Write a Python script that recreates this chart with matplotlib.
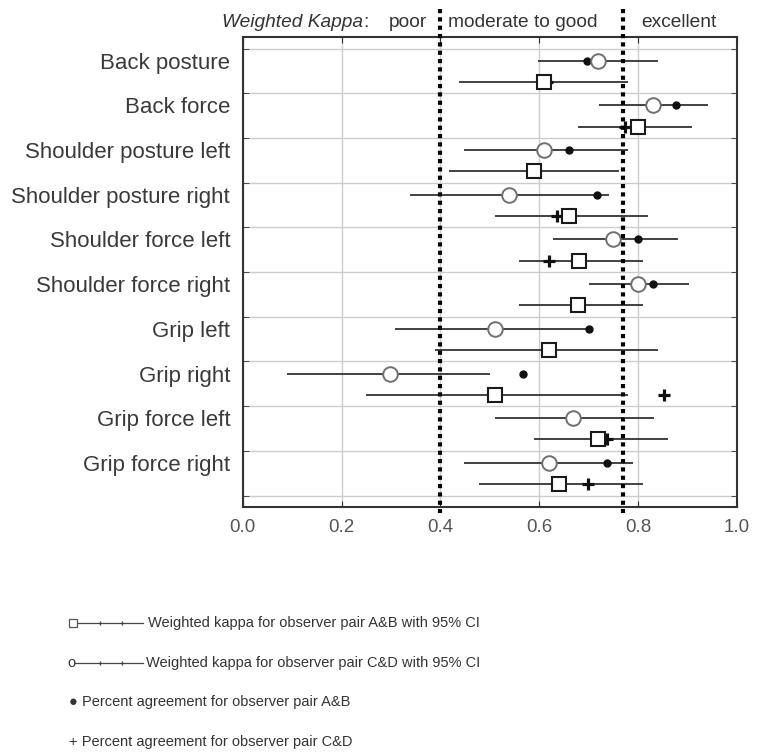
import numpy as np
import matplotlib
matplotlib.use("Agg")
import matplotlib.pyplot as plt
from matplotlib.lines import Line2D

plt.rcParams['font.family'] = ['Liberation Sans', 'DejaVu Sans']

categories = ["Back posture", "Back force", "Shoulder posture left", "Shoulder posture right",
              "Shoulder force left", "Shoulder force right", "Grip left", "Grip right",
              "Grip force left", "Grip force right"]

# weighted kappa, observer pair A&B (squares) with 95% CI
kappa_ab = [0.609, 0.799, 0.589, 0.660, 0.680, 0.679, 0.619, 0.510, 0.718, 0.640]
ab_lo = [0.438, 0.679, 0.417, 0.510, 0.559, 0.559, 0.389, 0.250, 0.589, 0.479]
ab_hi = [0.779, 0.909, 0.762, 0.820, 0.809, 0.809, 0.840, 0.779, 0.860, 0.809]

# weighted kappa, observer pair C&D (circles) with 95% CI
kappa_cd = [0.718, 0.830, 0.609, 0.539, 0.749, 0.799, 0.510, 0.299, 0.668, 0.619]
cd_lo = [0.597, 0.720, 0.447, 0.338, 0.628, 0.700, 0.309, 0.089, 0.510, 0.447]
cd_hi = [0.840, 0.942, 0.779, 0.741, 0.880, 0.902, 0.705, 0.501, 0.832, 0.790]

# percent agreement (dots and pluses); nan = not visible in the source
pct_dot = [0.697, 0.877, 0.660, 0.716, 0.799, 0.831, 0.700, 0.568, np.nan, 0.737]
pct_plus = [0.615, 0.774, 0.590, 0.636, 0.619, 0.680, 0.620, 0.853, 0.736, 0.699]

thresholds = [0.40, 0.77]

n = len(categories)
y_c = np.arange(n) + 0.27
y_s = np.arange(n) + 0.745

fig = plt.figure(figsize=(7.62, 7.53), dpi=100)
ax = fig.add_axes([0.3185, 0.327, 0.6487, 0.6234])

dark = '#333333'

ax.hlines(y_c, cd_lo, cd_hi, color=dark, lw=1.3, zorder=2)
ax.hlines(y_s, ab_lo, ab_hi, color=dark, lw=1.3, zorder=2)
ax.plot(pct_dot, y_c, 'o', ms=5, color='#111111', zorder=3)
ax.plot(pct_plus, y_s, '+', ms=8, mew=2.3, color='#111111', zorder=3)
ax.plot(kappa_cd, y_c, 'o', ms=10.5, mfc='white', mec='#707070', mew=1.4, zorder=3.5)
ax.plot(kappa_ab, y_s, 's', ms=10, mfc='white', mec='#1a1a1a', mew=1.5, zorder=3.5)

for t in thresholds:
    ax.plot([t, t], [-0.88, 10.39], ls=(0, (1, 1)), lw=3, color='black',
            clip_on=False, zorder=4)

ax.set_xlim(0, 1)
ax.set_ylim(10.25, -0.25)
ax.set_xticks(np.arange(0, 1.01, 0.2))
ax.set_xticklabels(["0.0", "0.2", "0.4", "0.6", "0.8", "1.0"])
ax.set_yticks(y_c)
ax.set_yticklabels(categories)
ax.set_yticks(np.arange(0, n + 1), minor=True)
ax.tick_params(axis='y', which='major', length=0, pad=9, labelsize=16, labelcolor='#3a3a3a')
ax.tick_params(axis='y', which='minor', direction='in', length=4, left=True, right=True,
               color=dark)
ax.tick_params(axis='x', direction='in', length=4, top=True, pad=9, labelsize=13.5,
               labelcolor='#555555', color=dark)
ax.grid(True, axis='x', which='major', color='#cccccc', lw=1)
ax.grid(True, axis='y', which='minor', color='#cccccc', lw=1)
ax.set_axisbelow(True)
for s in ax.spines.values():
    s.set_color(dark)
    s.set_linewidth(1.5)

tr = ax.get_xaxis_transform()
hy = 1.022
hs = 13.8
ax.text(0.243, hy, "Weighted Kappa", style='italic', ha='right', va='baseline',
        fontsize=hs, color=dark, transform=tr)
ax.text(0.243, hy, ":", ha='left', va='baseline', fontsize=hs, color=dark, transform=tr)
ax.text(0.296, hy, "poor", ha='left', va='baseline', fontsize=hs, color=dark, transform=tr)
ax.text(0.415, hy, "moderate to good", ha='left', va='baseline', fontsize=hs,
        color=dark, transform=tr)
ax.text(0.807, hy, "excellent", ha='left', va='baseline', fontsize=hs, color=dark,
        transform=tr)

# legend drawn by hand below the plot
W, H = 762.0, 753.0
def fx(px):
    return px / W
def fy(py):
    return 1 - py / H

lg = 10.5
rows = [623, 663, 702, 742]
fig.add_artist(Line2D([fx(77), fx(143)], [fy(rows[0])] * 2, color='#444444', lw=0.9))
fig.add_artist(Line2D([fx(100), fx(122)], [fy(rows[0])] * 2, ls='none', marker='|',
                      ms=3, color='#444444'))
fig.add_artist(Line2D([fx(73)], [fy(rows[0])], ls='none', marker='s', ms=6,
                      mfc='white', mec='#555555', mew=0.9))
fig.text(fx(148), fy(rows[0]), "Weighted kappa for observer pair A&B with 95% CI",
         fontsize=lg, color=dark, va='center')

fig.add_artist(Line2D([fx(75), fx(143)], [fy(rows[1])] * 2, color='#444444', lw=0.9))
fig.add_artist(Line2D([fx(100), fx(122)], [fy(rows[1])] * 2, ls='none', marker='|',
                      ms=3, color='#444444'))
fig.text(fx(67), fy(rows[1]), "o", fontsize=lg, color=dark, va='center')
fig.text(fx(146), fy(rows[1]), "Weighted kappa for observer pair C&D with 95% CI",
         fontsize=lg, color=dark, va='center')

fig.text(fx(69), fy(rows[2]), "\u25cf Percent agreement for observer pair A&B",
         fontsize=lg, color=dark, va='center')
fig.text(fx(69), fy(rows[3]), "+ Percent agreement for observer pair C&D",
         fontsize=lg, color=dark, va='center')

fig.savefig("out.png", dpi=100, facecolor='white')
